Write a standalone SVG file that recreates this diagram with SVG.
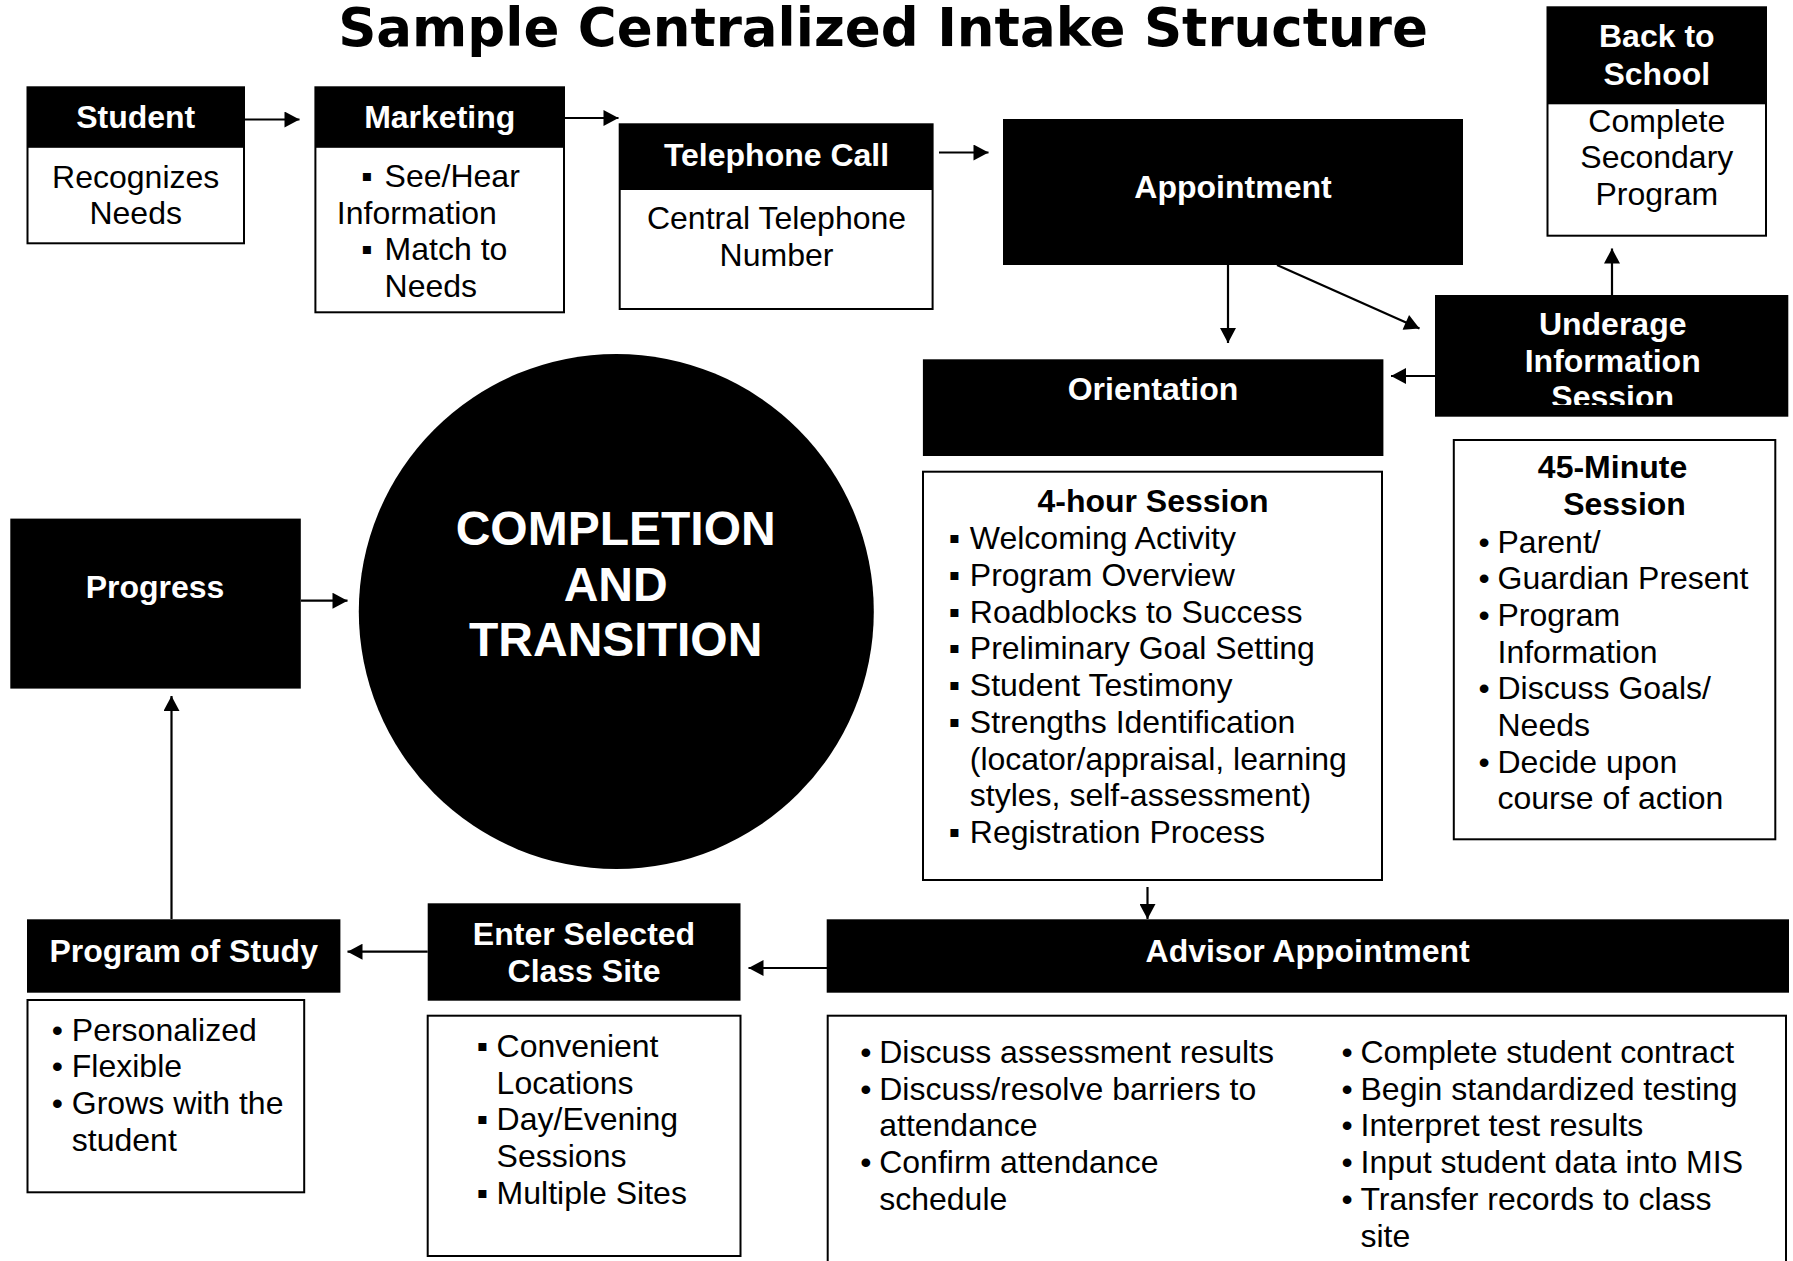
<svg xmlns="http://www.w3.org/2000/svg" width="1793" height="1261" viewBox="0 0 1793 1261">
<style>
.hd{fill:#000}
.bx{fill:#fff;stroke:#000;stroke-width:2}
.ht{font-family:"Liberation Sans",Arial,sans-serif;font-weight:bold;font-size:32px;fill:#fff;text-anchor:middle}
.t{font-family:"Liberation Sans",Arial,sans-serif;font-size:32px;fill:#000}
.c{text-anchor:middle}
.b{font-family:"Liberation Sans",Arial,sans-serif;font-weight:bold;font-size:32px;fill:#000;text-anchor:middle}
.big{font-family:"Liberation Sans",Arial,sans-serif;font-weight:bold;font-size:48px;fill:#fff;text-anchor:middle}
.title{font-family:"DejaVu Sans",Verdana,sans-serif;font-weight:bold;font-size:53px;fill:#000;text-anchor:middle}
.cn{fill:none;stroke:#000;stroke-width:2.2;marker-end:url(#ah)}
</style>
<defs>
<marker id="ah" markerUnits="userSpaceOnUse" markerWidth="16" markerHeight="16" viewBox="0 0 15 16" refX="15" refY="8" orient="auto">
<path d="M0,0 L15,8 L0,16 z" fill="#000"/>
</marker>
<clipPath id="uclip"><rect x="1435" y="295" width="354" height="110"/></clipPath>
</defs>
<rect width="1793" height="1261" fill="#fff"/>
<text class="title" x="883" y="46">Sample Centralized Intake Structure</text>

<g id="connectors">
<path class="cn" d="M244,119.5 L299.5,119.5"/>
<path class="cn" d="M564,118 L618.5,118"/>
<path class="cn" d="M939,152.5 L988.5,152.5"/>
<path class="cn" d="M1228,265 L1228,343"/>
<path class="cn" d="M1277,265 L1419.5,328.5"/>
<path class="cn" d="M1612,295 L1612,248.5"/>
<path class="cn" d="M1435,376 L1391,376"/>
<path class="cn" d="M1147.5,887 L1147.5,919"/>
<path class="cn" d="M827,968 L748.5,968"/>
<path class="cn" d="M427.7,951.7 L347.5,951.7"/>
<path class="cn" d="M171.5,919 L171.5,696"/>
<path class="cn" d="M301,600.7 L347.5,600.7"/>
</g>

<g id="student">
<rect class="bx" x="27.5" y="87.3" width="216.5" height="156"/>
<rect class="hd" x="27.5" y="87.3" width="216.5" height="60.5"/>
<text class="ht" x="135.7" y="128.3">Student</text>
<text class="t c" x="135.7" y="187.5">Recognizes</text>
<text class="t c" x="135.7" y="224.1">Needs</text>
</g>

<g id="marketing">
<rect class="bx" x="315.4" y="87.3" width="248.6" height="225"/>
<rect class="hd" x="315.4" y="87.3" width="248.6" height="60.5"/>
<text class="ht" x="439.7" y="128.3">Marketing</text>
<text class="t" x="361" y="187.3">▪</text>
<text class="t" x="384.6" y="187.3">See/Hear</text>
<text class="t" x="336.8" y="223.5">Information</text>
<text class="t" x="361" y="260">▪</text>
<text class="t" x="384.6" y="260">Match to</text>
<text class="t" x="384.6" y="296.7">Needs</text>
</g>

<g id="telephone">
<rect class="bx" x="619.7" y="124.3" width="312.9" height="184.7"/>
<rect class="hd" x="619.7" y="124.3" width="312.9" height="65.7"/>
<text class="ht" x="776.5" y="165.7">Telephone Call</text>
<text class="t c" x="776.5" y="229">Central Telephone</text>
<text class="t c" x="776.5" y="265.7">Number</text>
</g>

<g id="appointment">
<rect class="hd" x="1003" y="119" width="460" height="146"/>
<text class="ht" x="1233" y="198">Appointment</text>
</g>

<g id="back-to-school">
<rect class="bx" x="1547.5" y="7.3" width="218.5" height="228.4"/>
<rect class="hd" x="1547.5" y="7.3" width="218.5" height="97"/>
<text class="ht" x="1656.8" y="46.7">Back to</text>
<text class="ht" x="1656.8" y="85">School</text>
<text class="t c" x="1656.8" y="131.5">Complete</text>
<text class="t c" x="1656.8" y="168">Secondary</text>
<text class="t c" x="1656.8" y="204.5">Program</text>
</g>

<g id="underage">
<rect class="hd" x="1435" y="295" width="353.3" height="121.7"/>
<g clip-path="url(#uclip)">
<text class="ht" x="1612.7" y="335">Underage</text>
<text class="ht" x="1612.7" y="371.7">Information</text>
<text class="ht" x="1612.7" y="408.4">Session</text>
</g>
</g>

<g id="orientation">
<rect class="hd" x="922.9" y="359.3" width="460.5" height="96.7"/>
<text class="ht" x="1153" y="400">Orientation</text>
</g>

<g id="orientation-detail">
<rect class="bx" x="923" y="471.7" width="459" height="408.3"/>
<text class="b" x="1153" y="511.5">4-hour Session</text>
<text class="t" x="948.6" y="549.3">▪</text><text class="t" x="969.8" y="549.3">Welcoming Activity</text>
<text class="t" x="948.6" y="586">▪</text><text class="t" x="969.8" y="586">Program Overview</text>
<text class="t" x="948.6" y="622.7">▪</text><text class="t" x="969.8" y="622.7">Roadblocks to Success</text>
<text class="t" x="948.6" y="659.4">▪</text><text class="t" x="969.8" y="659.4">Preliminary Goal Setting</text>
<text class="t" x="948.6" y="696.1">▪</text><text class="t" x="969.8" y="696.1">Student Testimony</text>
<text class="t" x="948.6" y="732.8">▪</text><text class="t" x="969.8" y="732.8">Strengths Identification</text>
<text class="t" x="969.8" y="769.5">(locator/appraisal, learning</text>
<text class="t" x="969.8" y="806.2">styles, self-assessment)</text>
<text class="t" x="948.6" y="842.9">▪</text><text class="t" x="969.8" y="842.9">Registration Process</text>
</g>

<g id="underage-detail">
<rect class="bx" x="1453.8" y="440" width="321.5" height="399.3"/>
<text class="b" x="1612.5" y="478">45-Minute</text>
<text class="b" x="1624.5" y="515">Session</text>
<text class="t" x="1478.5" y="552.5">•</text><text class="t" x="1497.5" y="552.5">Parent/</text>
<text class="t" x="1478.5" y="589.2">•</text><text class="t" x="1497.5" y="589.2">Guardian Present</text>
<text class="t" x="1478.5" y="625.9">•</text><text class="t" x="1497.5" y="625.9">Program</text>
<text class="t" x="1497.5" y="662.6">Information</text>
<text class="t" x="1478.5" y="699.3">•</text><text class="t" x="1497.5" y="699.3">Discuss Goals/</text>
<text class="t" x="1497.5" y="736">Needs</text>
<text class="t" x="1478.5" y="772.7">•</text><text class="t" x="1497.5" y="772.7">Decide upon</text>
<text class="t" x="1497.5" y="809.4">course of action</text>
</g>

<g id="completion">
<circle cx="616.3" cy="611.5" r="257.5" fill="#000"/>
<text class="big" x="615.7" y="545.4">COMPLETION</text>
<text class="big" x="615.7" y="600.5">AND</text>
<text class="big" x="615.7" y="655.6">TRANSITION</text>
</g>

<g id="progress">
<rect class="hd" x="10.3" y="518.6" width="290.5" height="170"/>
<text class="ht" x="155" y="597.5">Progress</text>
</g>

<g id="advisor">
<rect class="hd" x="826.7" y="919.3" width="962.3" height="73.4"/>
<text class="ht" x="1307.6" y="961.5">Advisor Appointment</text>
</g>

<g id="advisor-detail">
<rect class="bx" x="827.7" y="1015.7" width="958.3" height="260"/>
<text class="t" x="860.2" y="1063">•</text><text class="t" x="879.2" y="1063">Discuss assessment results</text>
<text class="t" x="860.2" y="1099.7">•</text><text class="t" x="879.2" y="1099.7">Discuss/resolve barriers to</text>
<text class="t" x="879.2" y="1136.4">attendance</text>
<text class="t" x="860.2" y="1173.1">•</text><text class="t" x="879.2" y="1173.1">Confirm attendance</text>
<text class="t" x="879.2" y="1209.8">schedule</text>
<text class="t" x="1341.5" y="1063">•</text><text class="t" x="1360.5" y="1063">Complete student contract</text>
<text class="t" x="1341.5" y="1099.7">•</text><text class="t" x="1360.5" y="1099.7">Begin standardized testing</text>
<text class="t" x="1341.5" y="1136.4">•</text><text class="t" x="1360.5" y="1136.4">Interpret test results</text>
<text class="t" x="1341.5" y="1173.1">•</text><text class="t" x="1360.5" y="1173.1">Input student data into MIS</text>
<text class="t" x="1341.5" y="1209.8">•</text><text class="t" x="1360.5" y="1209.8">Transfer records to class</text>
<text class="t" x="1360.5" y="1246.5">site</text>
</g>

<g id="class-site">
<rect class="hd" x="427.7" y="903.3" width="312.8" height="97.4"/>
<text class="ht" x="584" y="945">Enter Selected</text>
<text class="ht" x="584" y="981.7">Class Site</text>
</g>

<g id="class-site-detail">
<rect class="bx" x="427.7" y="1015.7" width="312.8" height="240.3"/>
<text class="t" x="476.5" y="1057">▪</text><text class="t" x="496.6" y="1057">Convenient</text>
<text class="t" x="496.6" y="1093.7">Locations</text>
<text class="t" x="476.5" y="1130.4">▪</text><text class="t" x="496.6" y="1130.4">Day/Evening</text>
<text class="t" x="496.6" y="1167.1">Sessions</text>
<text class="t" x="476.5" y="1203.8">▪</text><text class="t" x="496.6" y="1203.8">Multiple Sites</text>
</g>

<g id="program-of-study">
<rect class="hd" x="27" y="919.3" width="313.4" height="73.4"/>
<text class="ht" x="183.7" y="961.5">Program of Study</text>
</g>

<g id="program-of-study-detail">
<rect class="bx" x="27.5" y="1000" width="276.7" height="192.3"/>
<text class="t" x="51.7" y="1040.5">•</text><text class="t" x="71.8" y="1040.5">Personalized</text>
<text class="t" x="51.7" y="1077.2">•</text><text class="t" x="71.8" y="1077.2">Flexible</text>
<text class="t" x="51.7" y="1113.9">•</text><text class="t" x="71.8" y="1113.9">Grows with the</text>
<text class="t" x="71.8" y="1150.6">student</text>
</g>
</svg>
